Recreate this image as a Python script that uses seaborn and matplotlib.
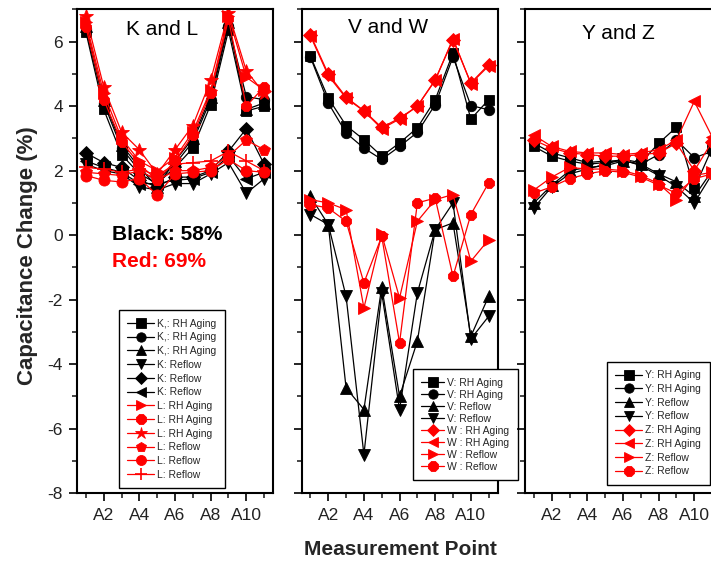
import numpy as np
import matplotlib
matplotlib.use("Agg")
import matplotlib.pyplot as plt
from matplotlib.ticker import MultipleLocator, FixedLocator, FixedFormatter
import seaborn as sns

# Measurement points along the x axis
points = [f"A{i}" for i in range(1, 12)]
tick_labels = ["A2", "A4", "A6", "A8", "A10"]

# ---- K and L (capacitance change, %) ----
k_rh_a = [6.30, 3.90, 2.50, 1.90, 1.60, 2.10, 2.70, 4.05, 6.35, 3.85, 4.00]
k_rh_b = [6.40, 4.10, 2.70, 2.00, 1.70, 2.20, 2.90, 4.20, 6.50, 4.30, 4.20]
k_rh_c = [6.50, 4.20, 2.80, 2.10, 1.50, 2.30, 3.00, 4.30, 6.60, 3.90, 4.10]
k_rf_a = [2.20, 2.00, 1.90, 1.50, 1.40, 1.60, 1.60, 1.90, 2.25, 1.30, 1.75]
k_rf_b = [2.55, 2.25, 2.10, 1.70, 1.50, 1.80, 1.80, 2.00, 2.60, 3.30, 2.20]
k_rf_c = [2.30, 2.10, 1.95, 1.60, 1.60, 1.70, 1.75, 1.95, 2.45, 1.75, 1.95]
l_rh_a = [6.60, 4.40, 3.00, 2.30, 2.00, 2.40, 3.20, 4.50, 6.80, 4.90, 4.50]
l_rh_b = [6.45, 4.20, 2.90, 2.20, 1.70, 2.30, 3.10, 4.40, 6.70, 4.00, 4.60]
l_rh_c = [6.80, 4.60, 3.20, 2.65, 1.90, 2.65, 3.40, 4.80, 6.90, 5.10, 4.40]
l_rf_a = [1.95, 1.90, 1.85, 2.00, 1.70, 2.00, 2.00, 2.10, 2.45, 2.95, 2.65]
l_rf_b = [1.85, 1.70, 1.65, 1.75, 1.25, 1.90, 1.95, 2.00, 2.35, 2.00, 1.95]
l_rf_c = [2.10, 2.05, 1.95, 2.05, 1.85, 2.20, 2.25, 2.30, 2.60, 2.30, 2.00]

# ---- V and W ----
v_rh_a = [5.55, 4.25, 3.40, 2.96, 2.45, 2.86, 3.33, 4.20, 5.65, 3.60, 4.20]
v_rh_b = [5.52, 4.10, 3.17, 2.70, 2.35, 2.75, 3.19, 4.05, 5.53, 4.02, 3.89]
v_rf_a = [1.20, 0.33, -4.74, -5.41, -1.60, -5.00, -3.29, 0.17, 0.38, -3.14, -1.90]
v_rf_b = [0.64, 0.33, -1.90, -6.81, -1.79, -5.41, -1.79, 0.17, 1.00, -3.22, -2.52]
w_rh_a = [6.22, 5.00, 4.28, 3.86, 3.34, 3.63, 4.00, 4.82, 6.06, 4.72, 5.29]
w_rh_b = [6.18, 4.95, 4.25, 3.85, 3.30, 3.60, 4.00, 4.80, 6.10, 4.70, 5.25]
w_rf_a = [1.10, 1.00, 0.79, -2.26, 0.02, -1.95, 0.43, 1.10, 1.26, -0.81, -0.14]
w_rf_b = [0.95, 0.84, 0.43, -1.48, -0.04, -3.34, 1.00, 1.15, -1.28, 0.64, 1.62]

# ---- Y and Z ----
y_rh_a = [2.75, 2.45, 2.30, 2.20, 2.25, 2.35, 2.25, 2.85, 3.35, 1.45, 2.70]
y_rh_b = [2.85, 2.55, 2.40, 2.25, 2.30, 2.30, 2.20, 2.50, 2.95, 2.40, 2.60]
y_rf_a = [1.00, 1.55, 2.00, 2.10, 2.15, 2.30, 2.20, 1.90, 1.65, 1.20, 2.00]
y_rf_b = [0.85, 1.50, 1.90, 2.05, 2.20, 2.35, 2.15, 1.85, 1.50, 1.00, 1.90]
z_rh_a = [2.95, 2.70, 2.55, 2.50, 2.45, 2.45, 2.50, 2.55, 2.85, 2.00, 2.90]
z_rh_b = [3.10, 2.75, 2.60, 2.55, 2.55, 2.50, 2.55, 2.65, 2.95, 4.15, 3.05]
z_rf_a = [1.40, 1.80, 2.10, 2.05, 2.05, 2.00, 1.85, 1.60, 1.10, 1.85, 1.95]
z_rf_b = [1.30, 1.50, 1.75, 1.90, 2.00, 1.95, 1.80, 1.55, 1.30, 1.75, 1.90]

BLACK = "black"
RED = "#ff0000"

panels = [
    {
        "title": "K and L", "title_xy": (0.434, 0.958),
        "legend": dict(anchor=(0.214, 0.010), spacing=0.36, handlelength=2.6),
        "series": [
            ("K,: RH Aging", k_rh_a, "s", BLACK, 7.5),
            ("K,: RH Aging", k_rh_b, "o", BLACK, 7.5),
            ("K,: RH Aging", k_rh_c, "^", BLACK, 8),
            ("K: Reflow", k_rf_a, "v", BLACK, 8),
            ("K: Reflow", k_rf_b, "D", BLACK, 7),
            ("K: Reflow", k_rf_c, "<", BLACK, 8),
            ("L: RH Aging", l_rh_a, ">", RED, 8),
            ("L: RH Aging", l_rh_b, "8", RED, 8),
            ("L: RH Aging", l_rh_c, "*", RED, 10),
            ("L: Reflow", l_rf_a, "p", RED, 8.5),
            ("L: Reflow", l_rf_b, "o", RED, 8),
            ("L: Reflow", l_rf_c, "+", RED, 10),
        ],
    },
    {
        "title": "V and W", "title_xy": (0.441, 0.962),
        "legend": dict(anchor=(0.569, 0.027), spacing=0.19, handlelength=2.2),
        "series": [
            ("V: RH Aging", v_rh_a, "s", BLACK, 7.5),
            ("V: RH Aging", v_rh_b, "o", BLACK, 7.5),
            ("V: Reflow", v_rf_a, "^", BLACK, 8),
            ("V: Reflow", v_rf_b, "v", BLACK, 8),
            ("W : RH Aging", w_rh_a, "D", RED, 7),
            ("W : RH Aging", w_rh_b, "<", RED, 8),
            ("W : Reflow", w_rf_a, ">", RED, 8),
            ("W : Reflow", w_rf_b, "8", RED, 8),
        ],
    },
    {
        "title": "Y and Z", "title_xy": (0.474, 0.951),
        "legend": dict(anchor=(0.418, 0.017), spacing=0.36, handlelength=2.6),
        "series": [
            ("Y: RH Aging", y_rh_a, "s", BLACK, 7.5),
            ("Y: RH Aging", y_rh_b, "o", BLACK, 7.5),
            ("Y: Reflow", y_rf_a, "^", BLACK, 8),
            ("Y: Reflow", y_rf_b, "v", BLACK, 8),
            ("Z: RH Aging", z_rh_a, "D", RED, 7),
            ("Z: RH Aging", z_rh_b, "<", RED, 8),
            ("Z: Reflow", z_rf_a, ">", RED, 8),
            ("Z: Reflow", z_rf_b, "8", RED, 8),
        ],
    },
]

sns.set_theme(style="ticks")
plt.rcParams["font.family"] = ["Liberation Sans", "DejaVu Sans"]
plt.rcParams["axes.linewidth"] = 1.5
plt.rcParams["axes.unicode_minus"] = False

fig = plt.figure(figsize=(7.11, 5.65), dpi=100)
lefts = [0.1083, 0.4241, 0.7384]
width, bottom, height = 0.2757, 0.1274, 0.8558
xpos = np.arange(1, len(points) + 1)

for i, (left, panel) in enumerate(zip(lefts, panels)):
    ax = fig.add_axes([left, bottom, width, height])
    handles = []
    for label, vals, marker, color, ms in panel["series"]:
        n_before = len(ax.lines)
        sns.lineplot(x=xpos, y=vals, ax=ax, color=color, marker=marker,
                     markersize=ms, markeredgecolor=color,
                     markeredgewidth=1.2 if marker == "+" else 0.6,
                     linewidth=0.9, label=label, legend=False)
        handles.append(ax.lines[n_before])
    ax.set_xlim(0.5, 11.5)
    ax.set_ylim(-8, 7)
    ax.set_xlabel("")
    ax.set_ylabel("")

    ax.xaxis.set_major_locator(FixedLocator([2, 4, 6, 8, 10]))
    ax.xaxis.set_major_formatter(FixedFormatter(tick_labels))
    ax.xaxis.set_minor_locator(FixedLocator([1, 3, 5, 7, 9, 11]))
    ax.yaxis.set_major_locator(MultipleLocator(2))
    ax.yaxis.set_minor_locator(MultipleLocator(1))
    ax.tick_params(which="major", direction="out", length=6, width=1.2,
                   labelsize=12.5, colors="black", labelcolor="#222222")
    ax.tick_params(which="minor", direction="out", length=3.5, width=1.2)
    ax.tick_params(axis="x", which="major", pad=5)
    ax.tick_params(axis="y", which="major", pad=4)
    ax.tick_params(right=False, top=False, which="both")
    if i > 0:
        ax.tick_params(axis="y", labelleft=False)
    for side in ["top", "right", "left", "bottom"]:
        ax.spines[side].set_visible(True)
        ax.spines[side].set_linewidth(1.5)
        ax.spines[side].set_color("black")

    ax.text(*panel["title_xy"], panel["title"], transform=ax.transAxes,
            ha="center", va="center", fontsize=15, color="black")

    leg_opts = panel["legend"]
    leg = ax.legend(handles=handles, loc="lower left",
                    bbox_to_anchor=leg_opts["anchor"], fontsize=7.5,
                    labelspacing=leg_opts["spacing"],
                    handlelength=leg_opts["handlelength"],
                    handletextpad=0.3, borderpad=0.8, markerscale=0.9,
                    frameon=True, fancybox=False, shadow=False,
                    framealpha=1, edgecolor="black", borderaxespad=0)
    leg.get_frame().set_linewidth(1.0)
    leg.set_clip_on(False)

    if i == 0:
        ax.text(0.179, 0.534, "Black: 58%", transform=ax.transAxes,
                ha="left", va="center", fontsize=15, fontweight="bold",
                color="black")
        ax.text(0.179, 0.478, "Red: 69%", transform=ax.transAxes,
                ha="left", va="center", fontsize=15, fontweight="bold",
                color=RED)

fig.text(0.038, 0.547, "Capacitance Change (%)", rotation=90,
         ha="center", va="center", fontsize=16, fontweight="bold")
fig.text(0.5626, 0.028, "Measurement Point", ha="center", va="center",
         fontsize=15, fontweight="bold")

fig.savefig("out.png", dpi=100)
